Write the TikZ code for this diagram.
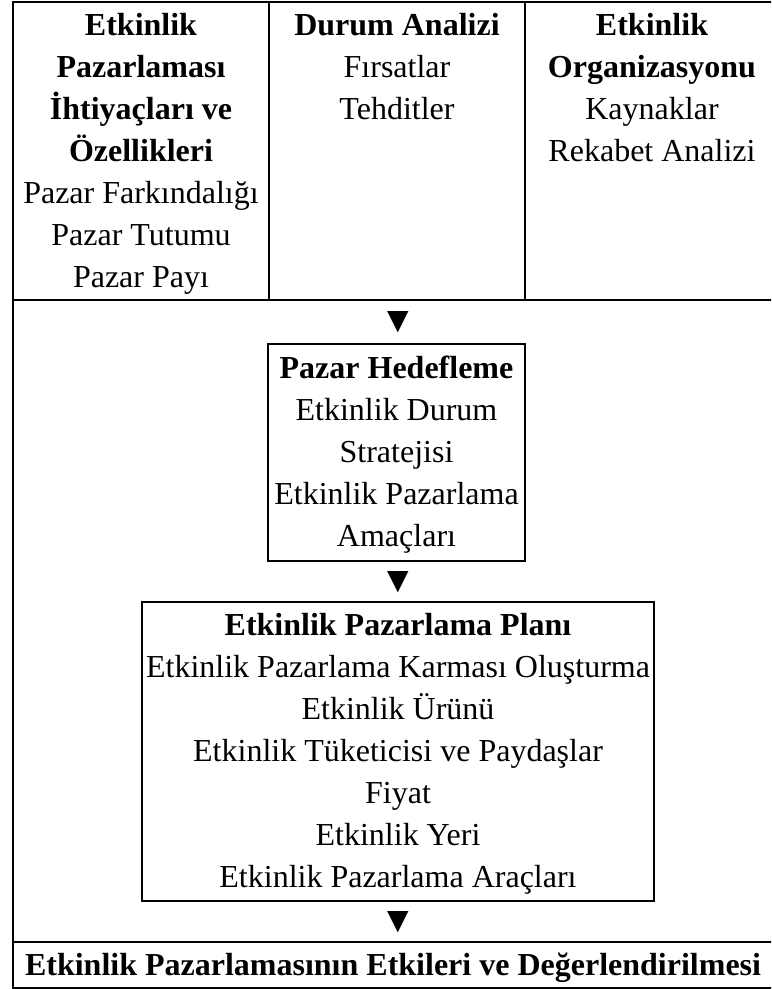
\documentclass[tikz,border=0pt]{standalone}
\usepackage{fontspec}
\setmainfont{Liberation Serif}
\newfontfamily\symfont{DejaVu Sans}
\usepackage{tikz}

\newcommand{\upstrut}{\rule{0pt}{16.5pt}}
\newcommand{\dnstrut}{\rule[-6.5pt]{0pt}{6.5pt}}

\begin{document}
\begin{tikzpicture}[x=0.5pt, y=-0.5pt,
  every node/.style={align=center, inner sep=0pt, font=\fontsize{16}{21}\selectfont},
  cell/.style={anchor=north},
  stagebox/.style={draw, line width=1.2pt, anchor=north},
  tri/.style={font=\symfont\fontsize{14}{14}\selectfont},
  frame/.style={line width=1.2pt}
]
  \useasboundingbox (0,0) rectangle (771,989);
  \clip (0,0) rectangle (771,989);

  % table frame
  \draw[frame] (13,2) rectangle (773,988);
  \draw[frame] (13,300) -- (773,300);
  \draw[frame] (13,942) -- (773,942);
  \draw[frame] (269,2) -- (269,300);
  \draw[frame] (525,2) -- (525,300);

  % top row
  \node[cell] (needs) at (141,2) {\upstrut\textbf{Etkinlik}\\ \textbf{Pazarlaması}\\
    \textbf{İhtiyaçları ve}\\ \textbf{Özellikleri}\\ Pazar Farkındalığı\\ Pazar Tutumu\\ Pazar Payı};
  \node[cell] (situation) at (397,2) {\upstrut\textbf{Durum Analizi}\\ Fırsatlar\\ Tehditler};
  \node[cell] (org) at (652,2) {\upstrut\textbf{Etkinlik}\\ \textbf{Organizasyonu}\\ Kaynaklar\\ Rekabet Analizi};

  \node[tri] (tri1) at (398,322.5) {▼};

  \node[stagebox, minimum width=128.5pt, minimum height=108.5pt] (target) at (396.5,343)
    {\upstrut\textbf{Pazar Hedefleme}\\ Etkinlik Durum\\ Stratejisi\\ Etkinlik Pazarlama\\ Amaçları\dnstrut};

  \node[tri] (tri2) at (398,582.5) {▼};

  \node[stagebox, minimum width=256pt, minimum height=149.5pt] (plan) at (398,601)
    {\upstrut\textbf{Etkinlik Pazarlama Planı}\\ Etkinlik Pazarlama Karması Oluşturma\\ Etkinlik Ürünü\\
     Etkinlik Tüketicisi ve Paydaşlar\\ Fiyat\\ Etkinlik Yeri\\ Etkinlik Pazarlama Araçları\dnstrut};

  \node[tri] (tri3) at (398,922.5) {▼};

  % bottom row
  \node[cell] (effects) at (393,942) {\upstrut\textbf{Etkinlik Pazarlamasının Etkileri ve Değerlendirilmesi}};
\end{tikzpicture}
\end{document}
